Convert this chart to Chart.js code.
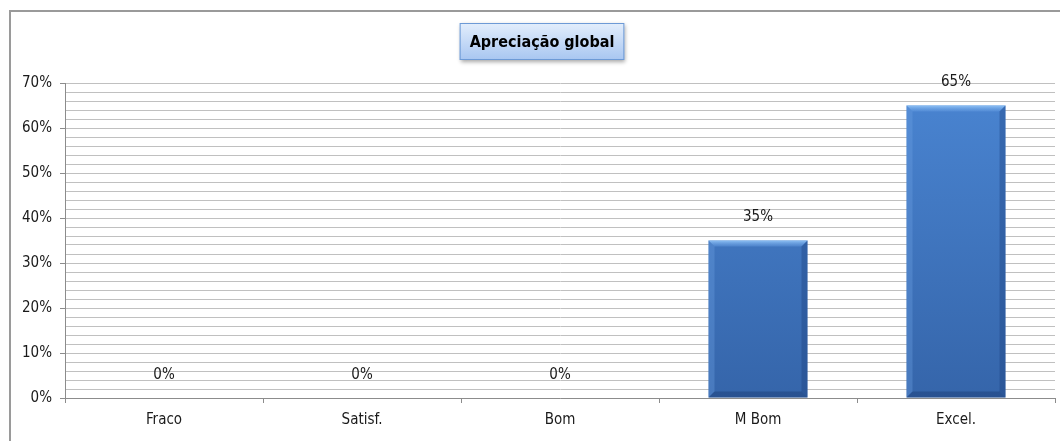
<!DOCTYPE html>
<html>
<head>
<meta charset="utf-8">
<script src="https://cdn.jsdelivr.net/npm/chart.js@4/dist/chart.umd.min.js"></script>
<style>
  html, body { margin: 0; padding: 0; background: #fff; }
  #wrap { position: relative; width: 1060px; height: 441px; }
</style>
</head>
<body>
<div id="wrap"><canvas id="myChart" width="1060" height="441"></canvas></div>
<script>
const categories = ["Fraco", "Satisf.", "Bom", "M Bom", "Excel."];
const values = [0, 0, 0, 35, 65];
const chartTitle = "Apreciação global";

const FONT = '"Liberation Sans Narrow", "DejaVu Sans Condensed", sans-serif';
const ctx = document.getElementById("myChart");

// outer frame (left + top only visible in the picture)
const frame = {
  id: "frame",
  beforeDraw(chart) {
    const c = chart.ctx;
    c.save();
    c.strokeStyle = "#9a9a9a";
    c.lineWidth = 2;
    c.beginPath();
    c.moveTo(10, chart.height);
    c.lineTo(10, 11);
    c.lineTo(chart.width, 11);
    c.stroke();
    c.restore();
  }
};

// title drawn in a blue shaded box
const titleBox = {
  id: "titleBox",
  afterDraw(chart) {
    const c = chart.ctx;
    c.save();
    c.font = "bold 16px " + FONT;
    const tw = c.measureText(chartTitle).width;
    const w = tw + 20, h = 37;
    const x = 542 - w / 2, y = 23;
    c.shadowColor = "rgba(0,0,0,0.35)";
    c.shadowBlur = 4;
    c.shadowOffsetX = 1;
    c.shadowOffsetY = 2;
    const g = c.createLinearGradient(0, y, 0, y + h);
    g.addColorStop(0, "#e3eefc");
    g.addColorStop(1, "#a8c6f1");
    c.fillStyle = g;
    c.fillRect(x, y, w, h);
    c.shadowColor = "transparent";
    c.strokeStyle = "#6d9ad6";
    c.lineWidth = 1;
    c.strokeRect(x + 0.5, y + 0.5, w - 1, h - 1);
    c.fillStyle = "#000";
    c.textAlign = "center";
    c.textBaseline = "middle";
    c.fillText(chartTitle, 542, y + h / 2 + 1);
    c.restore();
  }
};

// bevel edges on bars + value labels
const bevelLabels = {
  id: "bevelLabels",
  afterDatasetsDraw(chart) {
    const c = chart.ctx;
    const meta = chart.getDatasetMeta(0);
    c.save();
    meta.data.forEach((bar, i) => {
      const { x, y, base, width } = bar.getProps(["x", "y", "base", "width"], true);
      const l = x - width / 2, r = x + width / 2, t = y, b = base;
      const e = 6;
      if (b - t > 2 * e) {
        // top
        const gt = c.createLinearGradient(0, t, 0, t + e);
        gt.addColorStop(0, "rgba(150,200,250,0.9)");
        gt.addColorStop(1, "rgba(100,155,225,0.4)");
        c.fillStyle = gt;
        c.beginPath();
        c.moveTo(l, t); c.lineTo(r, t); c.lineTo(r - e, t + e); c.lineTo(l + e, t + e);
        c.fill();
        // left
        c.fillStyle = "rgba(110,160,225,0.35)";
        c.beginPath();
        c.moveTo(l, t); c.lineTo(l + e, t + e); c.lineTo(l + e, b - e); c.lineTo(l, b);
        c.fill();
        // right
        c.fillStyle = "rgba(25,60,120,0.35)";
        c.beginPath();
        c.moveTo(r, t); c.lineTo(r - e, t + e); c.lineTo(r - e, b - e); c.lineTo(r, b);
        c.fill();
        // bottom
        c.fillStyle = "rgba(20,50,100,0.35)";
        c.beginPath();
        c.moveTo(l, b); c.lineTo(l + e, b - e); c.lineTo(r - e, b - e); c.lineTo(r, b);
        c.fill();
      }
      c.font = "15px " + FONT;
      c.fillStyle = "#1a1a1a";
      c.textAlign = "center";
      c.textBaseline = "middle";
      c.fillText(values[i] + "%", x, y - 23);
    });
    c.restore();
  }
};

const myChart = new Chart(ctx, {
  type: "bar",
  data: {
    labels: categories,
    datasets: [{
      data: values,
      backgroundColor: (c) => {
        const area = c.chart.chartArea;
        if (!area) return "#3b6fb6";
        const g = c.chart.ctx.createLinearGradient(0, area.top, 0, area.bottom);
        g.addColorStop(0, "#4a85d2");
        g.addColorStop(1, "#3565aa");
        return g;
      },
      borderWidth: 0,
      barPercentage: 0.5,
      categoryPercentage: 1
    }]
  },
  options: {
    responsive: false,
    animation: false,
    events: [],
    layout: { padding: { left: 10, right: 5, top: 83, bottom: 0 } },
    plugins: {
      legend: { display: false },
      tooltip: { enabled: false },
      title: { display: false }
    },
    scales: {
      x: {
        grid: {
          drawOnChartArea: false,
          offset: true,
          tickLength: 5,
          color: "#8c8c8c"
        },
        border: { color: "#8c8c8c", width: 1 },
        ticks: {
          color: "#1a1a1a",
          font: { family: FONT, size: 15 },
          padding: 8,
          maxRotation: 0
        },
        afterFit(scale) { scale.height = 43; }
      },
      y: {
        min: 0,
        max: 70,
        grid: {
          color: "#c0c0c0",
          lineWidth: 1,
          tickLength: 5,
          tickColor: (c) => (c.tick && c.tick.value % 10 === 0 ? "#8c8c8c" : "rgba(0,0,0,0)")
        },
        border: { color: "#8c8c8c", width: 1 },
        ticks: {
          stepSize: 2,
          autoSkip: false,
          color: "#1a1a1a",
          font: { family: FONT, size: 15 },
          padding: 8,
          callback: (v) => (v % 10 === 0 ? v + "%" : "")
        },
        afterFit(scale) { scale.width = 55; }
      }
    }
  },
  plugins: [frame, bevelLabels, titleBox]
});
</script>
</body>
</html>
